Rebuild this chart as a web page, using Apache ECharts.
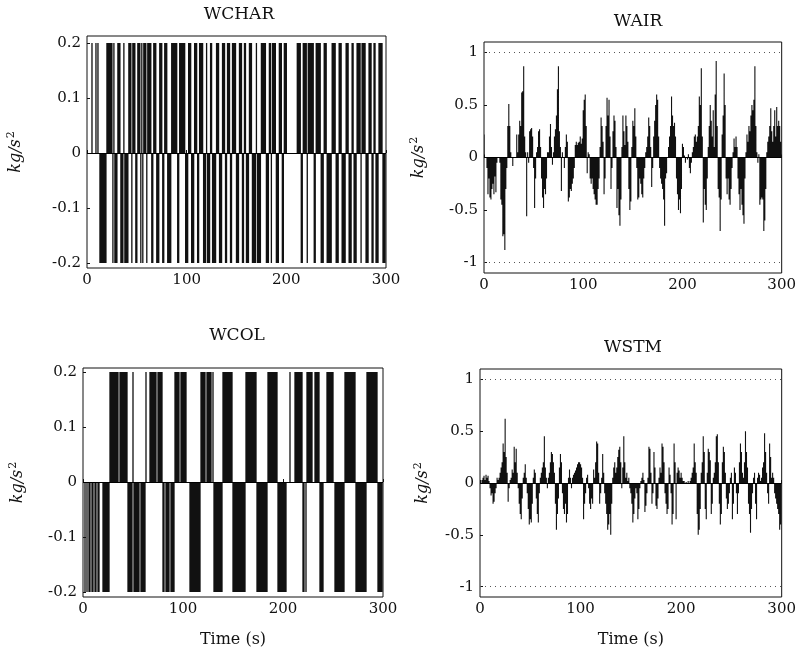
<!DOCTYPE html>
<html>
<head>
<meta charset="utf-8">
<script src="https://cdn.jsdelivr.net/npm/echarts@6/dist/echarts.min.js"></script>
<style>
  html, body { margin: 0; padding: 0; background: #fff; }
  #chart { width: 799px; height: 650px; }
</style>
</head>
<body>
<div id="chart"></div>
<script>
// Actuator move sequences, one sample per second (kg/s^2)
const HI = 0.2, LO = -0.2;

const wchar = [
  0, 0, 0, 0, 0, HI, 0, 0, 0, HI,             // 0-9
  0, HI, 0, LO, LO, LO, LO, LO, LO, LO,        // 10-19
  HI, HI, HI, HI, HI, HI, LO, HI, LO, LO,      // 20-29
  LO, HI, HI, HI, LO, LO, LO, HI, LO, LO,      // 30-39
  LO, LO, HI, HI, HI, LO, HI, HI, HI, LO,      // 40-49
  LO, HI, HI, HI, LO, HI, LO, HI, HI, HI,      // 50-59
  LO, HI, HI, HI, HI, LO, LO, HI, HI, HI,      // 60-69
  LO, LO, LO, HI, HI, HI, LO, LO, HI, HI,      // 70-79
  HI, LO, LO, LO, LO, HI, HI, HI, HI, HI,      // 80-89
  HI, LO, LO, HI, HI, HI, HI, HI, HI, LO,      // 90-99
  LO, LO, HI, HI, HI, LO, LO, LO, HI, HI,      // 100-109
  HI, LO, LO, HI, HI, HI, HI, LO, LO, LO,      // 110-119
  HI, LO, LO, LO, HI, HI, LO, LO, LO, LO,      // 120-129
  HI, HI, HI, LO, LO, LO, HI, HI, HI, LO,      // 130-139
  LO, HI, HI, HI, LO, LO, HI, HI, HI, HI,      // 140-149
  LO, LO, LO, HI, HI, HI, LO, LO, HI, HI,      // 150-159
  LO, LO, LO, HI, HI, HI, LO, LO, LO, LO,      // 160-169
  HI, LO, LO, LO, LO, HI, HI, HI, HI, HI,      // 170-179
  LO, LO, LO, HI, HI, LO, HI, HI, HI, HI,      // 180-189
  LO, LO, LO, HI, HI, HI, LO, LO, HI, HI,      // 190-199
  HI, 0, 0, 0, 0, 0, 0, 0, 0, 0,               // 200-209
  0, HI, HI, HI, HI, LO, LO, HI, HI, HI,       // 210-219
  HI, LO, HI, HI, HI, HI, HI, HI, LO, LO,      // 220-229
  HI, HI, HI, HI, HI, LO, LO, LO, HI, HI,      // 230-239
  HI, LO, LO, LO, LO, LO, HI, HI, HI, HI,      // 240-249
  LO, LO, LO, HI, HI, HI, LO, LO, LO, LO,      // 250-259
  HI, HI, HI, LO, LO, LO, HI, HI, LO, LO,      // 260-269
  LO, HI, HI, HI, HI, LO, HI, HI, HI, HI,      // 270-279
  LO, LO, LO, HI, HI, HI, LO, LO, HI, HI,      // 280-289
  LO, LO, LO, HI, HI, HI, HI, LO, LO, LO       // 290-299
];

const wcol = [
  0, 0, LO, 0, LO, 0, LO, LO, 0, LO,           // 0-9
  LO, 0, LO, LO, 0, LO, LO, 0, 0, 0,           // 10-19
  LO, LO, LO, LO, LO, LO, LO, HI, HI, HI,      // 20-29
  HI, HI, HI, HI, HI, HI, 0, HI, HI, HI,       // 30-39
  HI, HI, HI, HI, HI, LO, LO, LO, LO, LO,      // 40-49
  HI, LO, LO, LO, LO, LO, LO, 0, LO, LO,       // 50-59
  LO, LO, LO, HI, 0, 0, 0, HI, HI, HI,         // 60-69
  HI, HI, HI, HI, 0, HI, HI, HI, HI, HI,       // 70-79
  LO, LO, 0, LO, LO, LO, LO, 0, LO, LO,        // 80-89
  LO, LO, HI, HI, HI, HI, HI, 0, HI, HI,       // 90-99
  HI, HI, HI, HI, 0, 0, 0, LO, LO, LO,         // 100-109
  LO, LO, LO, LO, LO, LO, LO, LO, HI, HI,      // 110-119
  HI, HI, HI, 0, HI, HI, HI, HI, HI, 0,        // 120-129
  HI, LO, LO, LO, LO, LO, LO, LO, LO, LO,      // 130-139
  HI, HI, HI, HI, HI, HI, HI, HI, HI, HI,      // 140-149
  LO, LO, LO, LO, LO, LO, LO, LO, LO, LO,      // 150-159
  LO, LO, LO, HI, HI, HI, HI, HI, HI, HI,      // 160-169
  HI, HI, HI, HI, LO, LO, LO, LO, LO, LO,      // 170-179
  LO, LO, LO, LO, LO, HI, HI, HI, HI, HI,      // 180-189
  HI, HI, HI, HI, HI, LO, LO, LO, LO, LO,      // 190-199
  LO, LO, LO, LO, 0, 0, 0, HI, 0, 0,           // 200-209
  0, 0, HI, HI, HI, HI, HI, HI, HI, HI,        // 210-219
  LO, LO, 0, LO, HI, HI, HI, HI, HI, HI,       // 220-229
  0, 0, HI, HI, HI, HI, HI, LO, LO, LO,        // 230-239
  LO, 0, 0, 0, HI, HI, HI, HI, HI, HI,         // 240-249
  HI, 0, LO, LO, LO, LO, LO, LO, LO, LO,       // 250-259
  LO, LO, HI, HI, HI, HI, HI, HI, HI, HI,      // 260-269
  HI, HI, HI, LO, LO, LO, LO, LO, LO, LO,      // 270-279
  LO, LO, LO, LO, HI, HI, HI, HI, HI, HI,      // 280-289
  HI, HI, HI, HI, HI, LO, LO, LO, LO, LO       // 290-299
];

const wair = [
  0.22, 0, 0, -0.1, -0.35, -0.2, -0.38, -0.4, -0.3, -0.25,        // 0-9
  -0.35, -0.18, -0.33, -0.05, 0, 0, -0.05, -0.4, -0.45, -0.75,    // 10-19
  -0.73, -0.88, -0.3, -0.1, 0.3, 0.51, 0.3, 0.05, 0, -0.08,       // 20-29
  0, 0, 0, 0.22, 0.05, 0.22, 0.35, 0.3, 0.62, 0.63,               // 30-39
  0.87, 0.2, 0.05, -0.56, 0.05, -0.05, 0.25, 0.27, 0.28, 0.2,     // 40-49
  -0.1, -0.48, -0.2, 0.05, 0.1, 0.25, 0.27, 0.1, -0.2, -0.38,     // 50-59
  -0.48, -0.3, -0.35, -0.2, 0.05, 0.05, 0.2, 0.32, 0.1, -0.07,    // 60-69
  0.05, 0.2, 0.27, 0.4, 0.65, 0.87, 0.25, 0.1, -0.32, 0.05,       // 70-79
  0, -0.1, 0.1, 0.22, 0.15, -0.42, -0.38, -0.3, -0.32, -0.25,     // 80-89
  -0.2, -0.1, 0.12, 0.15, 0.12, 0.14, 0.15, 0.2, 0.13, 0.18,      // 90-99
  0.45, 0.55, 0.6, 0.3, -0.15, 0.05, 0.03, -0.2, -0.25, -0.2,     // 100-109
  -0.3, -0.35, -0.4, -0.45, -0.45, -0.3, -0.2, 0.1, 0.38, 0.3,    // 110-119
  0.15, -0.35, -0.2, 0.3, 0.57, 0.4, 0.55, 0.2, -0.3, -0.1,       // 120-129
  0.25, 0.4, 0.35, 0.1, -0.48, -0.3, -0.55, -0.65, -0.4, 0.1,     // 130-139
  0.4, 0.25, 0.12, 0.4, 0.3, 0.15, -0.3, -0.5, -0.42, 0.1,        // 140-149
  0.35, 0.3, 0.47, 0.2, -0.1, -0.4, -0.38, -0.2, -0.25, -0.35,    // 150-159
  -0.38, -0.2, -0.1, 0.05, 0.1, 0.2, 0.38, 0.3, 0.1, -0.28,       // 160-169
  -0.1, 0.2, 0.35, 0.5, 0.6, 0.55, 0.2, -0.1, -0.2, -0.25,        // 170-179
  -0.3, -0.4, -0.65, -0.2, -0.15, 0, 0.1, 0.2, 0.3, 0.58,         // 180-189
  0.4, 0.3, 0.33, 0.2, -0.2, -0.35, -0.5, -0.4, -0.53, -0.3,      // 190-199
  0.13, 0.1, 0.02, -0.05, 0, -0.02, 0.03, -0.1, -0.15, -0.05,     // 200-209
  0.05, 0.1, 0.2, 0.22, 0.15, 0.2, 0.3, 0.58, 0.5, 0.85,          // 210-219
  0.2, -0.62, -0.3, -0.45, -0.5, -0.2, 0.1, 0.3, 0.5, 0.35,       // 220-229
  0.2, 0.45, 0.1, 0.6, 0.92, 0.3, -0.3, -0.38, -0.7, -0.4,        // 230-239
  0.22, 0.4, 0.8, 0.5, -0.2, -0.35, -0.2, -0.4, -0.45, -0.3,      // 240-249
  -0.1, 0.05, 0.18, 0.1, 0.2, 0.1, -0.2, -0.35, -0.5, -0.3,       // 250-259
  -0.45, -0.55, -0.63, -0.2, 0.05, 0.22, 0.15, 0.3, 0.25, 0.4,    // 260-269
  0.5, 0.45, 0.55, 0.87, 0.3, 0.05, -0.05, 0.03, -0.45, -0.4,     // 270-279
  -0.38, -0.4, -0.7, -0.6, -0.3, 0.05, 0.15, 0.2, 0.3, 0.47,      // 280-289
  0.25, 0.15, 0.3, 0.45, 0.2, 0.48, 0.3, 0.35, 0.3, 0.15          // 290-299
];

const wstm = [
  0, 0, 0.03, 0.05, 0.07, 0.03, 0.08, 0.05, 0.07, 0.02,           // 0-9
  -0.05, -0.12, -0.1, -0.2, -0.18, -0.1, -0.05, 0.05, 0.03, 0.05, // 10-19
  0.1, 0.15, 0.2, 0.38, 0.3, 0.62, 0.25, 0.1, -0.18, -0.05,       // 20-29
  0.03, 0.05, 0.13, 0.1, 0.35, 0.2, 0.33, 0.1, -0.05, -0.2,       // 30-39
  -0.3, -0.35, -0.15, 0.05, 0.1, 0.18, 0.05, -0.1, -0.25, -0.4,   // 40-49
  -0.35, -0.38, -0.2, 0.05, 0.13, 0.1, -0.15, -0.3, -0.38, -0.1,  // 50-59
  0.05, 0.1, 0.15, 0.2, 0.45, 0.15, 0.05, -0.05, 0.05, 0.1,       // 60-69
  0.2, 0.3, 0.28, 0.2, 0.1, -0.2, -0.45, -0.3, -0.15, 0.15,       // 70-79
  0.28, 0.2, -0.1, -0.25, -0.3, -0.2, -0.38, -0.3, 0.05, 0.13,    // 80-89
  0.05, -0.05, 0.05, 0.08, 0.1, 0.12, 0.15, 0.18, 0.2, 0.2,       // 90-99
  0.18, 0.15, 0.05, -0.35, -0.2, -0.1, 0.05, 0.08, -0.05, -0.2,   // 100-109
  -0.25, -0.15, -0.2, 0.13, 0.05, 0.2, 0.4, 0.38, 0.1, -0.2,      // 110-119
  -0.1, 0.05, 0.28, 0.1, -0.1, -0.2, -0.3, -0.45, -0.4, -0.3,     // 120-129
  -0.5, -0.2, 0.05, 0.15, 0.2, 0.1, 0.15, 0.25, 0.32, 0.35,       // 130-139
  0.2, -0.05, 0.15, 0.45, 0.2, 0.05, 0.1, 0.02, 0.05, -0.05,      // 140-149
  -0.1, -0.2, -0.38, -0.3, -0.15, -0.05, -0.1, -0.35, -0.25, -0.05, // 150-159
  0.02, 0.05, 0.1, 0.03, -0.28, -0.22, -0.1, 0.05, 0.35, 0.33,    // 160-169
  0.1, -0.2, -0.1, 0.3, 0.15, -0.22, -0.25, -0.15, 0.05, 0.15,    // 170-179
  0.1, 0.38, 0.35, 0.2, -0.1, -0.2, -0.3, -0.25, 0.15, 0.08,      // 180-189
  -0.1, -0.4, -0.3, 0.38, 0.2, -0.35, 0.1, 0.15, 0.12, 0.05,      // 190-199
  0.1, 0.05, 0.02, 0.02, 0, 0.01, 0, 0.02, 0, 0.02,               // 200-209
  0.05, 0.1, 0.15, 0.38, 0.2, 0.1, -0.3, -0.5, -0.45, -0.25,      // 210-219
  0.1, 0.2, 0.45, 0.3, -0.25, -0.35, 0.1, 0.33, 0.3, 0.22,        // 220-229
  -0.3, -0.2, 0.05, 0.1, 0.2, 0.45, 0.47, 0.2, -0.2, -0.4,        // 230-239
  -0.3, 0.2, 0.35, 0.3, 0.1, -0.15, -0.25, -0.2, -0.1, 0.05,      // 240-249
  0.1, -0.35, -0.2, 0.15, 0.1, -0.1, -0.3, -0.1, 0.2, 0.38,       // 250-259
  0.3, 0.1, 0.05, 0.2, 0.5, 0.3, 0.15, -0.2, -0.3, -0.48,         // 260-269
  -0.25, -0.1, 0.05, 0.1, -0.2, -0.35, 0.05, 0.1, 0.08, 0.02,     // 270-279
  0.05, 0.15, 0.2, 0.48, 0.3, 0.1, -0.1, -0.2, 0.38, 0.25,        // 280-289
  0.05, 0.1, 0.05, -0.1, -0.15, -0.2, -0.25, -0.3, -0.45, -0.4    // 290-299
];

const sampleTime = 1;                         // s between moves
const timeTicks = [0, 100, 200, 300];
const smallTicks = [-0.2, -0.1, 0, 0.1, 0.2];
const largeTicks = [-1, -0.5, 0, 0.5, 1];
const limitLevels = [-1, 1];
const titles = ['WCHAR', 'WAIR', 'WCOL', 'WSTM'];
const unitLabel = '{v|kg/s}{e|2}';
const timeLabel = 'Time (s)';

// Layout of the four panels (pixels) and their value ranges
const layout = [
  { box: [87, 36, 299, 232],  lim: [-0.209, 0.2127], title: [239, 6],   nameGap: 62 },
  { box: [484, 42, 302, 231], lim: [-1.1, 1.1],      title: [638, 13],  nameGap: 56 },
  { box: [83, 368, 300, 229], lim: [-0.209, 0.2073], title: [237, 327], nameGap: 56 },
  { box: [480, 369, 302, 228], lim: [-1.1, 1.1],     title: [633, 339], nameGap: 48 }
];
const panelData = [wchar, wair, wcol, wstm];
const panelTicks = [smallTicks, largeTicks, smallTicks, largeTicks];
const showLimits = [false, true, false, true];
const showTimeName = [false, false, true, true];

const FONT = 'DejaVu Serif';
const INK = '#111';

const chart = echarts.init(document.getElementById('chart'), null, { renderer: 'canvas' });

const option = {
  animation: false,
  backgroundColor: '#fff',
  title: titles.map((t, i) => ({
    text: t,
    left: layout[i].title[0],
    top: layout[i].title[1],
    textAlign: 'center',
    padding: 0,
    textStyle: { fontFamily: FONT, fontWeight: 'normal', fontSize: 17, color: INK }
  })),
  grid: layout.map(l => ({
    left: l.box[0], top: l.box[1], width: l.box[2], height: l.box[3],
    show: true, borderColor: INK, borderWidth: 1, backgroundColor: 'transparent'
  })),
  xAxis: layout.map((l, i) => ({
    type: 'value', gridIndex: i, min: 0, max: 300,
    name: showTimeName[i] ? timeLabel : '',
    nameLocation: 'middle', nameGap: 35,
    nameTextStyle: { fontFamily: FONT, fontSize: 16, color: INK },
    axisLine: { show: false },
    axisTick: { show: true, inside: true, length: 3, customValues: timeTicks, lineStyle: { color: INK } },
    axisLabel: { customValues: timeTicks, fontFamily: FONT, fontSize: 15, color: INK, margin: 5 },
    splitLine: { show: false }
  })),
  yAxis: layout.map((l, i) => ({
    type: 'value', gridIndex: i, min: l.lim[0], max: l.lim[1],
    name: unitLabel, nameLocation: 'middle', nameGap: l.nameGap, nameRotate: 90,
    nameTextStyle: {
      rich: {
        v: { fontFamily: FONT, fontStyle: 'italic', fontSize: 16, color: INK },
        e: { fontFamily: FONT, fontSize: 11, color: INK, verticalAlign: 'top', padding: [0, 0, 8, 1] }
      }
    },
    axisLine: { show: false },
    axisTick: { show: true, inside: true, length: 3, customValues: panelTicks[i], lineStyle: { color: INK } },
    axisLabel: { customValues: panelTicks[i], fontFamily: FONT, fontSize: 15, color: INK, margin: 6 },
    splitLine: { show: false }
  })),
  series: panelData.map((vals, i) => ({
    type: 'bar',
    xAxisIndex: i, yAxisIndex: i,
    data: vals.map((v, k) => [k * sampleTime, v]),
    barWidth: showLimits[i] ? 1.1 : 1.3,
    large: true, largeThreshold: 50,
    itemStyle: { color: INK },
    silent: true,
    markLine: {
      silent: true, symbol: 'none', label: { show: false },
      data: [
        { yAxis: 0, lineStyle: { color: '#000', width: 1.2, type: 'solid' } }
      ].concat(showLimits[i] ? limitLevels.map(y => ({
        yAxis: y, lineStyle: { color: '#555', width: 1, type: [1, 4] }
      })) : [])
    }
  }))
};

chart.setOption(option);
</script>
</body>
</html>
